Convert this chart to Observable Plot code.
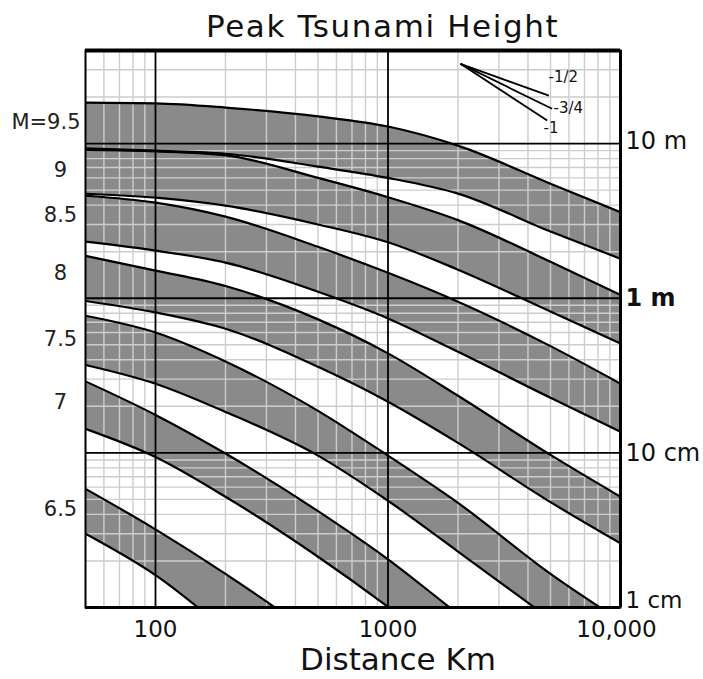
<!DOCTYPE html>
<html>
<head>
<meta charset="utf-8">
<script src="https://cdn.jsdelivr.net/npm/d3@7"></script>
<script src="https://cdn.jsdelivr.net/npm/@observablehq/plot@0.6"></script>
<style>
html,body{margin:0;padding:0;background:#fff;overflow:hidden;}
#wrap{position:relative;width:703px;height:679px;font-family:"DejaVu Sans",sans-serif;}
#title{position:absolute;left:206px;top:11px;white-space:nowrap;font-size:31px;line-height:31px;letter-spacing:1.6px;color:#111;}
#chart{position:absolute;left:0;top:44px;}
</style>
</head>
<body>
<div id="wrap">
  <div id="title">Peak Tsunami Height</div>
  <div id="chart"></div>
</div>
<script>
// Distances (km) at which band edges were read
const distances = [50, 100, 200, 500, 1000, 2000, 5000, 10000];

// Band edges: peak tsunami height (m), upper and lower edge per magnitude
const m95Top    = [18.4, 18.2, 17.1, 15.0, 12.9, 9.7, 5.5, 3.6];
const m95Bottom = [9.3, 9.0, 8.6, 7.1, 6.0, 4.75, 2.7, 1.8];
const m90Top    = [9.1, 8.9, 8.4, 6.0, 4.5, 3.2, 1.72, 1.05];
const m90Bottom = [4.74, 4.47, 3.97, 3.0, 2.3, 1.53, 0.82, 0.51];
const m85Top    = [4.6, 4.15, 3.37, 2.15, 1.46, 0.95, 0.49, 0.28];
const m85Bottom = [2.32, 2.03, 1.70, 1.10, 0.74, 0.45, 0.227, 0.137];
const m80Top    = [1.88, 1.51, 1.20, 0.73, 0.44, 0.234, 0.097, 0.052];
const m80Bottom = [0.96, 0.81, 0.635, 0.36, 0.214, 0.116, 0.048, 0.026];
const m75Top    = [0.77, 0.60, 0.39, 0.187, 0.096, 0.0475, 0.0165, 0.0082];
const m75Bottom = [0.37, 0.28, 0.184, 0.096, 0.049, 0.023, 0.0084, 0.004];
const m70Top    = [0.29, 0.176, 0.099, 0.042, 0.0205, 0.0091, 0.0033, 0.0016];
const m70Bottom = [0.143, 0.094, 0.052, 0.0213, 0.0101, 0.0045, 0.0016, 0.0008];
const m65Top    = [0.0585, 0.032, 0.0165, 0.0063, 0.0028];
const m65Bottom = [0.030, 0.0162, 0.0072, 0.0024, 0.0010];

// Magnitude labels on the left and the heights they sit at (m)
const magLabels = ["M=9.5", "9", "8.5", "8", "7.5", "7", "6.5"];
const magLabelHeights = [13.7, 6.7, 3.42, 1.44, 0.54, 0.214, 0.0435];

// Axis ticks
const xTickValues = [100, 1000, 10000];
const xTickLabels = ["100", "1000", "10,000"];
const yTickValues = [10, 1, 0.1, 0.01];
const yTickLabels = ["10 m", "1 m", "10 cm", "1 cm"];

// Grid
const majorDistances = [100, 1000];
const majorHeights = [10, 1, 0.1];
const minorDistances = [60, 70, 80, 90, 200, 300, 400, 500, 600, 700, 800, 900,
                        2000, 3000, 4000, 5000, 6000, 7000, 8000, 9000];
const minorHeights = [0.02, 0.03, 0.04, 0.05, 0.06, 0.07, 0.08, 0.09,
                      0.2, 0.3, 0.4, 0.5, 0.6, 0.7, 0.8, 0.9,
                      2, 3, 4, 5, 6, 7, 8, 9, 20, 30];

// Slope key (top right)
const slopeOriginDistance = 2050;
const slopeOriginHeight = 32.8;
const slopeLabels = ["-1/2", "-3/4", "-1"];
const slopeEndDistances = [4920, 5080, 4840];
const slopeEndHeights = [20.4, 16.8, 14.1];
const slopeLabelDistances = [4900, 5150, 4670];
const slopeLabelHeights = [26.7, 16.9, 12.6];

const bands = [
  {m: "9.5", top: m95Top, bottom: m95Bottom},
  {m: "9",   top: m90Top, bottom: m90Bottom},
  {m: "8.5", top: m85Top, bottom: m85Bottom},
  {m: "8",   top: m80Top, bottom: m80Bottom},
  {m: "7.5", top: m75Top, bottom: m75Bottom},
  {m: "7",   top: m70Top, bottom: m70Bottom},
  {m: "6.5", top: m65Top, bottom: m65Bottom}
];
const rows = bands.flatMap(b => b.top.map((t, i) => ({m: b.m, d: distances[i], top: t, bottom: b.bottom[i]})));

const magRows = magLabels.map((t, i) => ({t, h: magLabelHeights[i]}));
const xTicks = xTickValues.map((v, i) => ({v, t: xTickLabels[i]}));
const yTicks = yTickValues.map((v, i) => ({v, t: yTickLabels[i]}));
const slopes = slopeLabels.map((t, i) => ({
  t, x1: slopeOriginDistance, y1: slopeOriginHeight,
  x2: slopeEndDistances[i], y2: slopeEndHeights[i],
  lx: slopeLabelDistances[i], ly: slopeLabelHeights[i]
}));

const chart = Plot.plot({
  width: 703,
  height: 635,
  marginLeft: 85,
  marginRight: 83,
  marginTop: 6,
  marginBottom: 72,
  x: {type: "log", domain: [50, 10000], axis: null},
  y: {type: "log", domain: [0.01, 40], axis: null},
  style: {fontFamily: "DejaVu Sans", background: "white", color: "#111", overflow: "visible"},
  marks: [
    Plot.areaY(rows, {x: "d", y1: "bottom", y2: "top", z: "m", fill: "#8a8a8a", curve: "monotone-x", clip: true}),
    Plot.ruleX(minorDistances, {stroke: "#cdcdcd", strokeWidth: 1.4}),
    Plot.ruleY(minorHeights, {stroke: "#cdcdcd", strokeWidth: 1.4}),
    Plot.line(rows, {x: "d", y: "top", z: "m", stroke: "black", strokeWidth: 2.2, curve: "monotone-x", clip: true}),
    Plot.line(rows, {x: "d", y: "bottom", z: "m", stroke: "black", strokeWidth: 2.2, curve: "monotone-x", clip: true}),
    Plot.ruleX(majorDistances, {stroke: "black", strokeWidth: 1.8}),
    Plot.ruleY(majorHeights, {stroke: "black", strokeWidth: 1.8}),
    Plot.frame({stroke: "black", strokeWidth: 2}),
    Plot.ruleY([40], {stroke: "black", strokeWidth: 4}),
    Plot.ruleY([0.01], {stroke: "black", strokeWidth: 3}),
    Plot.ruleX([10000], {stroke: "black", strokeWidth: 3}),
    // slope key
    Plot.link(slopes, {x1: "x1", y1: "y1", x2: "x2", y2: "y2", stroke: "black", strokeWidth: 1.8}),
    Plot.text(slopes, {x: "lx", y: "ly", text: "t", textAnchor: "start", fontSize: 15, fill: "#111"}),
    // magnitude labels
    Plot.text(magRows.slice(0, 1), {y: "h", text: "t", frameAnchor: "left", lineAnchor: "middle", dx: -5, textAnchor: "end", fontSize: 21, fill: "#222"}),
    Plot.text(magRows.slice(1), {y: "h", text: "t", frameAnchor: "left", lineAnchor: "middle", dx: -25, textAnchor: "middle", fontSize: 21, fill: "#222"}),
    // right-hand height labels
    Plot.text(yTicks.filter(d => d.v === 10), {y: "v", text: "t", frameAnchor: "right", lineAnchor: "middle", dx: 5, dy: -2, textAnchor: "start", fontSize: 24, fill: "#111"}),
    Plot.text(yTicks.filter(d => d.v === 1), {y: "v", text: "t", frameAnchor: "right", lineAnchor: "middle", dx: 5, textAnchor: "start", fontSize: 24, fontWeight: "bold", fill: "#111"}),
    Plot.text(yTicks.filter(d => d.v === 0.1), {y: "v", text: "t", frameAnchor: "right", lineAnchor: "middle", dx: 5, textAnchor: "start", fontSize: 24, fill: "#111"}),
    Plot.text(yTicks.filter(d => d.v === 0.01), {y: "v", text: "t", frameAnchor: "right", lineAnchor: "middle", dx: 5, dy: -7, textAnchor: "start", fontSize: 23, fill: "#111"}),
    // distance tick labels
    Plot.text(xTicks.filter(d => d.v < 10000), {x: "v", text: "t", frameAnchor: "bottom", lineAnchor: "middle", dy: 22, fontSize: 23, fill: "#111"}),
    Plot.text(xTicks.filter(d => d.v === 10000), {x: "v", text: "t", frameAnchor: "bottom", lineAnchor: "middle", dx: -4, dy: 22, fontSize: 23, fill: "#111"}),
    Plot.text(["Distance Km"], {frameAnchor: "bottom", lineAnchor: "middle", dx: 45, dy: 53, fontSize: 31, fill: "#111"})
  ]
});
document.getElementById("chart").appendChild(chart);
</script>
</body>
</html>
